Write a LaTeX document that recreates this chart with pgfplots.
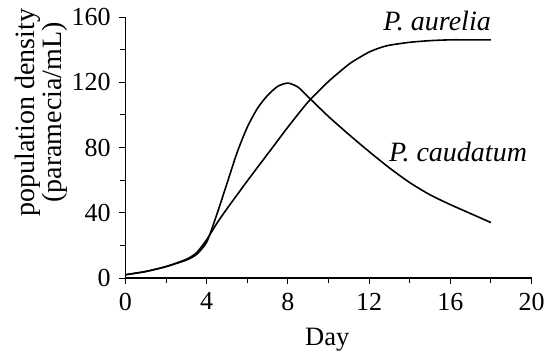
\documentclass[border=0pt]{standalone}
\usepackage{fontspec}
\setmainfont{Liberation Serif}
\usepackage{pgfplots}
\pgfplotsset{compat=1.18}
\begin{document}
\fontsize{26}{24}\selectfont
\begin{tikzpicture}
\begin{axis}[
  scale only axis,
  width=406pt, height=261pt,
  xmin=0, xmax=20, ymin=0, ymax=160,
  axis x line=bottom, axis y line=left,
  axis line style={-, line width=1.1pt},
  xtick={0,4,...,20}, ytick={0,40,...,160},
  minor xtick={2,6,...,18}, minor ytick={20,60,...,140},
  tick align=outside,
  major tick length=6pt, minor tick length=5pt,
  tick style={line width=1pt, black},
  /pgf/number format/assume math mode=true,
  tick label style={font=\fontsize{26}{24}\selectfont},
  xlabel={Day},
  ylabel={population density\\(paramecia/mL)},
  ylabel style={font=\fontsize{28}{22}\selectfont, align=center,
    at={(axis description cs:-0.208,0.634)}, anchor=center},
  xlabel style={font=\fontsize{26.5}{24}\selectfont,
    at={(axis description cs:0.497,-0.257)}, anchor=base},
  clip=false,
]
\addplot[black, line width=1.6pt, smooth, tension=0.4] coordinates {
(0,2) (1,4) (2,7) (3,11) (3.5,14.5) (4,22) (4.5,39) (5,58) (5.5,77) (6,92.5)
(6.5,104) (7,112) (7.5,117.5) (8,119.5) (8.5,117) (9,111) (10,99) (11,88)
(12,77.5) (13,67.5) (14,58.5) (15,51) (16,45) (17,39.5) (18,34)};
\addplot[black, line width=1.6pt, smooth, tension=0.4] coordinates {
(0,2) (1,4) (2,7) (3,11.5) (3.5,15.5) (4,23.5) (4.5,33.5) (5,42.5) (6,59.5)
(7,76) (8,92.5) (9,108) (10,120.5) (11,131) (11.5,135) (12,138.5) (12.5,141) (13,142.7) (14,144.5)
(15,145.5) (16,146) (17,146) (18,146)};
\node[font=\itshape\fontsize{28}{24}\selectfont, anchor=base] at (axis cs:15.35,152) {P. aurelia};
\node[font=\itshape\fontsize{28}{24}\selectfont, anchor=base] at (axis cs:16.38,71.3) {P. caudatum};
\coordinate (bl) at (rel axis cs:0,0);
\coordinate (tr) at (rel axis cs:1,1);
\end{axis}
\pgfresetboundingbox
\path ([xshift=-125.5pt,yshift=-73pt]bl) rectangle ([xshift=14.5pt,yshift=17pt]tr);
\end{tikzpicture}
\end{document}
